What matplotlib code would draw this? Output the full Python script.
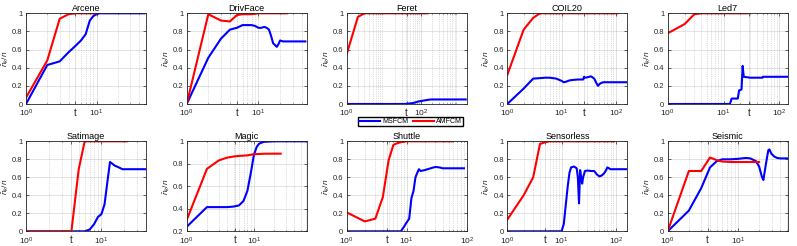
import matplotlib
matplotlib.use("Agg")
import matplotlib.pyplot as plt
from matplotlib.ticker import FixedLocator, LogLocator, NullFormatter

plt.rcParams['font.family'] = ['Liberation Sans', 'DejaVu Sans']
plt.rcParams['mathtext.fontset'] = 'custom'
plt.rcParams['mathtext.rm'] = 'Liberation Sans'
plt.rcParams['mathtext.it'] = 'Liberation Sans:italic'

names = ["Arcene", "DrivFace", "Feret", "COIL20", "Led7",
         "Satimage", "Magic", "Shuttle", "Sensorless", "Seismic"]

# MSFCM (blue) series
ms_x = {
    "Arcene": [1, 2, 3, 4, 5, 6, 7, 8, 9, 10, 11, 15, 20, 30, 47],
    "DrivFace": [1, 2, 3, 4, 5, 6, 7, 8, 9, 10, 11, 12, 13, 14, 15, 16, 17, 18, 19, 20, 22, 25, 30, 40, 45],
    "Feret": [1, 36, 60, 90, 150, 185, 400, 1000, 1600],
    "COIL20": [1, 2, 3, 4, 5, 6, 8, 10, 11, 12, 14, 16, 20, 25, 26, 27, 30, 35, 40, 44, 47, 50, 55, 60, 100, 160],
    "Led7": [1, 13, 14, 18, 19, 21, 22, 23, 30, 50, 51, 100, 138],
    "Satimage": [1, 6, 7, 8, 9, 10, 11, 12, 13, 14, 15, 17, 19, 25, 38],
    "Magic": [1, 2, 3, 4, 5, 6, 7, 8, 9, 10, 11, 12, 14, 20, 60],
    "Shuttle": [1, 8, 9, 10, 11, 12, 13, 14, 15, 16, 17, 20, 25, 30, 35, 40, 90],
    "Sensorless": [1, 10, 11, 12, 13, 14, 15, 17, 19, 20, 21, 22, 23, 24, 25, 27, 30, 35, 40, 45, 50, 55, 60, 65, 70, 75, 80, 160],
    "Seismic": [1, 2, 3, 4, 5, 6, 8, 10, 13, 15, 18, 20, 22, 23, 25, 27, 28, 30, 33, 36, 40, 50],
}
ms_y = {
    "Arcene": [0.0, 0.43, 0.47, 0.57, 0.64, 0.70, 0.77, 0.92, 0.97, 0.99, 1.0, 1.0, 1.0, 1.0, 1.0],
    "DrivFace": [0, 0.51, 0.72, 0.82, 0.84, 0.87, 0.87, 0.87, 0.86, 0.84, 0.84, 0.85, 0.84, 0.82, 0.75, 0.67, 0.65, 0.63, 0.66, 0.70, 0.69, 0.69, 0.69, 0.69, 0.69],
    "Feret": [0, 0, 0.01, 0.03, 0.045, 0.05, 0.05, 0.05, 0.05],
    "COIL20": [0, 0.17, 0.28, 0.285, 0.29, 0.29, 0.28, 0.255, 0.24, 0.245, 0.26, 0.265, 0.27, 0.27, 0.30, 0.29, 0.295, 0.305, 0.28, 0.23, 0.20, 0.22, 0.235, 0.24, 0.24, 0.24],
    "Led7": [0, 0, 0.06, 0.06, 0.15, 0.16, 0.42, 0.30, 0.29, 0.29, 0.30, 0.30, 0.30],
    "Satimage": [0, 0, 0.02, 0.08, 0.16, 0.19, 0.30, 0.55, 0.77, 0.75, 0.73, 0.71, 0.69, 0.69, 0.69],
    "Magic": [0.24, 0.415, 0.415, 0.415, 0.42, 0.43, 0.47, 0.56, 0.72, 0.88, 0.95, 0.98, 0.995, 1.0, 1.0],
    "Shuttle": [0, 0, 0.05, 0.10, 0.14, 0.37, 0.45, 0.60, 0.65, 0.69, 0.67, 0.68, 0.70, 0.715, 0.71, 0.70, 0.70],
    "Sensorless": [0, 0, 0.08, 0.30, 0.50, 0.65, 0.71, 0.72, 0.70, 0.60, 0.31, 0.68, 0.60, 0.53, 0.60, 0.67, 0.675, 0.67, 0.67, 0.63, 0.61, 0.62, 0.64, 0.67, 0.71, 0.70, 0.69, 0.69],
    "Seismic": [0, 0.23, 0.48, 0.71, 0.78, 0.80, 0.80, 0.805, 0.815, 0.81, 0.78, 0.72, 0.60, 0.57, 0.75, 0.90, 0.91, 0.86, 0.83, 0.815, 0.81, 0.81],
}

# AMFCM (red) series
am_x = {
    "Arcene": [1, 2, 3, 4, 5, 7, 10],
    "DrivFace": [1, 2, 3, 4, 5, 6, 8, 10, 15, 25],
    "Feret": [1, 2, 3, 5, 10, 50, 150],
    "COIL20": [1, 2, 3, 4, 10, 50, 107],
    "Led7": [1, 2, 3, 4, 10, 27],
    "Satimage": [1, 2, 3, 4, 5, 6, 10, 22],
    "Magic": [1, 2, 3, 4, 5, 6, 8, 10, 15, 25],
    "Shuttle": [1, 2, 3, 4, 5, 6, 7, 8, 10, 58],
    "Sensorless": [1, 2, 3, 4, 5, 6, 93],
    "Seismic": [1, 2, 3, 4, 5, 6, 8, 10, 20],
}
am_y = {
    "Arcene": [0.07, 0.48, 0.94, 0.99, 1.0, 1.0, 1.0],
    "DrivFace": [0, 0.99, 0.92, 0.91, 0.98, 0.99, 0.99, 1.0, 1.0, 1.0],
    "Feret": [0.55, 0.96, 1.0, 1.0, 1.0, 1.0, 1.0],
    "COIL20": [0.32, 0.82, 0.95, 1.0, 1.0, 1.0, 1.0],
    "Led7": [0.78, 0.88, 0.99, 1.0, 1.0, 1.0],
    "Satimage": [0, 0, 0, 0, 0.69, 1.0, 1.0, 1.0],
    "Magic": [0.30, 0.755, 0.83, 0.855, 0.865, 0.87, 0.875, 0.885, 0.89, 0.89],
    "Shuttle": [0.21, 0.11, 0.14, 0.38, 0.79, 0.96, 0.98, 0.99, 1.0, 1.0],
    "Sensorless": [0.13, 0.40, 0.60, 0.97, 0.99, 1.0, 1.0],
    "Seismic": [0, 0.67, 0.67, 0.82, 0.79, 0.775, 0.77, 0.77, 0.77],
}

x_max = {"Arcene": 50, "DrivFace": 47, "Feret": 1700, "COIL20": 163, "Led7": 141,
         "Satimage": 39, "Magic": 61, "Shuttle": 100, "Sensorless": 163, "Seismic": 51}
y_min = {"Magic": 0.2}
t_pos = {"Arcene": 5, "DrivFace": 5, "Feret": 41, "COIL20": 26, "Led7": 29,
         "Satimage": 4, "Magic": 5.3, "Shuttle": 4.7, "Sensorless": 5, "Seismic": 3.7}
decade_ticks = {"Arcene": [1, 10], "DrivFace": [1, 10], "Feret": [1, 100],
                "COIL20": [1, 10, 100], "Led7": [1, 10, 100], "Satimage": [1, 10],
                "Magic": [1, 10], "Shuttle": [1, 10, 100], "Sensorless": [1, 10, 100],
                "Seismic": [1, 10]}

fig = plt.figure(figsize=(7.97, 2.46), dpi=100)
W, H = 797.0, 246.0
lefts_px = [26, 186.7, 346.7, 507.3, 667.7]
width_px = 120
rows_px = [(13.3, 104), (141.3, 231.3)]

edge = (0.15, 0.15, 0.15)
lines_for_legend = None
for i, name in enumerate(names):
    r, c = divmod(i, 5)
    top, bot = rows_px[r]
    ax = fig.add_axes([lefts_px[c] / W, 1 - bot / H, width_px / W, (bot - top) / H])
    ax.set_xscale('log')
    l1, = ax.plot(ms_x[name], ms_y[name], color='b', lw=1.5)
    l2, = ax.plot(am_x[name], am_y[name], color='r', lw=1.5)
    lines_for_legend = (l1, l2)
    ax.set_xlim(1, x_max[name])
    ylo = y_min.get(name, 0)
    ax.set_ylim(ylo, 1)
    yt = [v / 10 for v in range(int(round(ylo * 10)), 11, 2)]
    ax.set_yticks(yt)
    ax.set_yticklabels(['%g' % v for v in yt])
    ticks = sorted(decade_ticks[name] + [t_pos[name]])
    labels = []
    for tv in ticks:
        if tv == t_pos[name]:
            labels.append('t')
        else:
            e = 0
            v = tv
            while v >= 10:
                v /= 10
                e += 1
            labels.append('10$^{%d}$' % e)
    ax.xaxis.set_major_locator(FixedLocator(ticks))
    ax.set_xticklabels(labels)
    ax.xaxis.set_minor_locator(LogLocator(base=10, subs=range(2, 10), numticks=20))
    ax.xaxis.set_minor_formatter(NullFormatter())
    ax.grid(which='major', color=edge, alpha=0.15, lw=0.6)
    ax.grid(which='minor', axis='x', color=edge, alpha=0.3, lw=0.5, linestyle=':')
    ax.tick_params(which='both', direction='in', top=True, right=True,
                   colors=edge, length=2, width=0.5)
    ax.tick_params(axis='y', labelsize=5.5, pad=2.5)
    ax.tick_params(axis='x', labelsize=6, pad=3)
    ax.tick_params(which='minor', length=1)
    for lab in ax.get_xticklabels():
        if lab.get_text() == 't':
            lab.set_fontsize(7)
    for s in ax.spines.values():
        s.set_color(edge)
        s.set_linewidth(0.6)
    ax.set_title(name, fontsize=6.5, pad=2, color='k')
    ax.set_ylabel(r'$\hat{n}_k/n$', fontsize=6, color=edge)
    ax.yaxis.set_label_coords(-0.125, 0.5)

fig.legend(lines_for_legend, ['MSFCM', 'AMFCM'], loc='center',
           bbox_to_anchor=(410.5 / W, 1 - 121.5 / H), ncol=2, fontsize=5,
           frameon=True, fancybox=False, edgecolor='k', framealpha=1,
           handlelength=3.0, handletextpad=0.3, columnspacing=0.7,
           borderpad=0.2, borderaxespad=0)

fig.savefig('out.png', dpi=100)
